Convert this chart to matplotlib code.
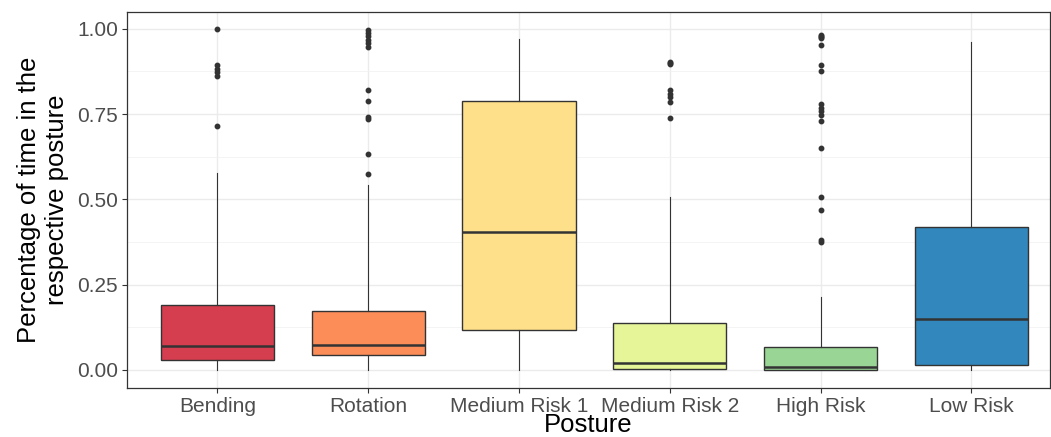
import matplotlib as mpl
import matplotlib.pyplot as plt
import numpy as np

# values (fraction of time in posture)
postures = ["Bending", "Rotation", "Medium Risk 1", "Medium Risk 2", "High Risk", "Low Risk"]
q1 = [0.028, 0.043, 0.117, 0.004, 0.001, 0.014]
medians = [0.070, 0.073, 0.405, 0.021, 0.008, 0.149]
q3 = [0.190, 0.173, 0.787, 0.137, 0.068, 0.419]
whisker_lo = [0.0, 0.0, 0.0, 0.0, 0.0, 0.0]
whisker_hi = [0.576, 0.542, 0.971, 0.508, 0.213, 0.960]
outliers = [
    [1.00, 0.893, 0.882, 0.872, 0.862, 0.715],
    [0.997, 0.988, 0.978, 0.968, 0.957, 0.946, 0.821, 0.788, 0.740, 0.735, 0.634, 0.574],
    [],
    [0.903, 0.900, 0.897, 0.820, 0.810, 0.800, 0.784, 0.737],
    [0.981, 0.978, 0.975, 0.972, 0.952, 0.893, 0.875, 0.778, 0.769, 0.759,
     0.747, 0.730, 0.649, 0.506, 0.468, 0.381, 0.374],
    [],
]
fill_colors = ["#D53E4F", "#FC8D59", "#FEE08B", "#E6F598", "#99D594", "#3288BD"]

mpl.rcParams.update({
    "font.family": ["Liberation Sans", "DejaVu Sans"],
})

stats = []
for i, name in enumerate(postures):
    stats.append({
        "label": name,
        "q1": q1[i], "med": medians[i], "q3": q3[i],
        "whislo": whisker_lo[i], "whishi": whisker_hi[i],
        "fliers": np.array(outliers[i]),
    })

fig = plt.figure(figsize=(10.51, 4.37), dpi=100)
ax = fig.add_axes([0.1208, 0.1121, 0.878, 0.8604])

positions = np.arange(1, len(postures) + 1)
bp = ax.bxp(
    stats, positions=positions, widths=0.75, patch_artist=True, showcaps=False,
    boxprops=dict(edgecolor="#333333", linewidth=1.0),
    medianprops=dict(color="#333333", linewidth=1.8),
    whiskerprops=dict(color="#333333", linewidth=0.8),
    flierprops=dict(marker="o", markerfacecolor="#333333", markeredgecolor="#333333",
                    markersize=3.2, linestyle="none"),
    zorder=3,
)
for patch, c in zip(bp["boxes"], fill_colors):
    patch.set_facecolor(c)

ax.set_xlim(0.4, 6.52)
ax.set_ylim(-0.053, 1.049)
ax.set_yticks([0, 0.25, 0.5, 0.75, 1.0])
ax.set_yticklabels(["0.00", "0.25", "0.50", "0.75", "1.00"])
ax.set_yticks([0.125, 0.375, 0.625, 0.875], minor=True)
ax.set_xticks(positions)
ax.set_xticklabels(postures)

ax.grid(which="major", color="#EBEBEB", linewidth=1.0, zorder=0)
ax.grid(which="minor", axis="y", color="#F2F2F2", linewidth=0.6, zorder=0)
ax.set_axisbelow(True)

for s in ax.spines.values():
    s.set_color("#333333")
    s.set_linewidth(0.9)

ax.tick_params(axis="both", which="major", labelsize=15, labelcolor="#4D4D4D",
               color="#333333", length=3.5, width=0.8, pad=3)
ax.tick_params(axis="y", which="minor", length=0)

ax.set_xlabel("Posture", fontsize=18.5, labelpad=-2)
ax.set_ylabel("Percentage of time in the\nrespective posture", fontsize=18.5,
              labelpad=6, linespacing=1.2)

fig.savefig("out.png", dpi=100)
